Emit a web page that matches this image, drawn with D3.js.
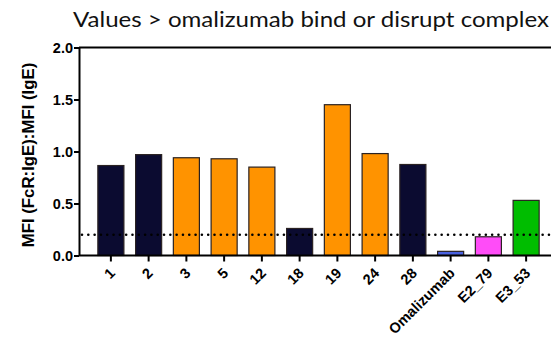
<!DOCTYPE html>
<html>
<head>
<meta charset="utf-8">
<script src="https://cdn.jsdelivr.net/npm/d3@7"></script>
<style>
  html, body { margin: 0; padding: 0; background: #fff; }
  svg { display: block; }
</style>
</head>
<body>
<svg id="chart" width="551" height="337"></svg>
<script>
// Binding ratio per clone
const categories = ["1", "2", "3", "5", "12", "18", "19", "24", "28", "Omalizumab", "E2_79", "E3_53"];
const values = [0.865, 0.97, 0.94, 0.93, 0.85, 0.26, 1.45, 0.98, 0.875, 0.04, 0.18, 0.53];
const groups = ["dark", "dark", "orange", "orange", "orange", "dark", "orange", "orange", "dark", "omalizumab", "e2", "e3"];
const yTicks = [0, 0.5, 1.0, 1.5, 2.0];
const threshold = 0.2;

const colorByGroup = {
  dark: "#0b0b30",
  orange: "#ff9300",
  omalizumab: "#4a62e0",
  e2: "#ff4cf8",
  e3: "#00bd00"
};

const svg = d3.select("#chart");
const plotLeft = 79, plotRight = 551, plotTop = 47.5, plotBottom = 255.5;

const x = d3.scaleBand()
  .domain(categories)
  .range([92, 545])
  .paddingInner(0.31)
  .paddingOuter(0.155);

const y = d3.scaleLinear().domain([0, 2]).range([plotBottom, plotTop]);

// Title
svg.append("text")
  .attr("x", 311)
  .attr("y", 27)
  .attr("text-anchor", "middle")
  .attr("font-family", "Lato, 'Open Sans', sans-serif")
  .attr("font-size", 21)
  .attr("fill", "#111")
  .attr("textLength", 476)
  .attr("lengthAdjust", "spacingAndGlyphs")
  .text("Values > omalizumab bind or disrupt complex");

// Bars
svg.append("g").selectAll("rect")
  .data(categories)
  .join("rect")
  .attr("x", d => x(d))
  .attr("width", x.bandwidth())
  .attr("y", (d, i) => y(values[i]))
  .attr("height", (d, i) => y(0) - y(values[i]))
  .attr("fill", (d, i) => colorByGroup[groups[i]])
  .attr("stroke", "#2a2222")
  .attr("stroke-width", 1.2);

// Threshold dotted line
svg.append("line")
  .attr("x1", plotLeft + 3)
  .attr("x2", plotRight)
  .attr("y1", y(threshold))
  .attr("y2", y(threshold))
  .attr("stroke", "#000")
  .attr("stroke-width", 2.6)
  .attr("stroke-linecap", "round")
  .attr("stroke-dasharray", "0.01 6.3");

// Top frame line
svg.append("line")
  .attr("x1", plotLeft)
  .attr("x2", plotRight)
  .attr("y1", y(2))
  .attr("y2", y(2))
  .attr("stroke", "#000")
  .attr("stroke-width", 2);

// Y axis
const yAxis = svg.append("g")
  .attr("transform", `translate(${plotLeft},0)`)
  .call(d3.axisLeft(y).tickValues(yTicks).tickFormat(d3.format(".1f")).tickSize(5).tickSizeOuter(0));
yAxis.select(".domain").attr("stroke", "#000").attr("stroke-width", 2);
yAxis.selectAll(".tick line").attr("stroke", "#000").attr("stroke-width", 2);
yAxis.selectAll(".tick text")
  .attr("x", -6)
  .attr("font-family", "'Liberation Sans', Arial, sans-serif")
  .attr("font-weight", "bold")
  .attr("font-size", 14.5)
  .attr("fill", "#000");

// X axis
const xAxis = svg.append("g")
  .attr("transform", `translate(0,${plotBottom})`)
  .call(d3.axisBottom(x).tickSize(6).tickSizeOuter(0));
xAxis.select(".domain").attr("d", `M${plotLeft},0H${plotRight}`).attr("stroke", "#000").attr("stroke-width", 2);
xAxis.selectAll(".tick line").attr("stroke", "#000").attr("stroke-width", 2);
xAxis.selectAll(".tick text")
  .attr("font-family", "'Liberation Sans', Arial, sans-serif")
  .attr("font-weight", "bold")
  .attr("font-size", 14.5)
  .attr("fill", "#000")
  .attr("text-anchor", "end")
  .attr("dy", "0.35em")
  .attr("transform", "translate(1.5,15) rotate(-45)")
  .attr("x", 0)
  .attr("y", 0);

// Y axis title
svg.append("text")
  .attr("transform", "translate(34,155) rotate(-90)")
  .attr("text-anchor", "middle")
  .attr("font-family", "'Liberation Sans', Arial, sans-serif")
  .attr("font-weight", "bold")
  .attr("font-size", 16.8)
  .attr("fill", "#000")
  .text("MFI (FcR:IgE):MFI (IgE)");
</script>
</body>
</html>
